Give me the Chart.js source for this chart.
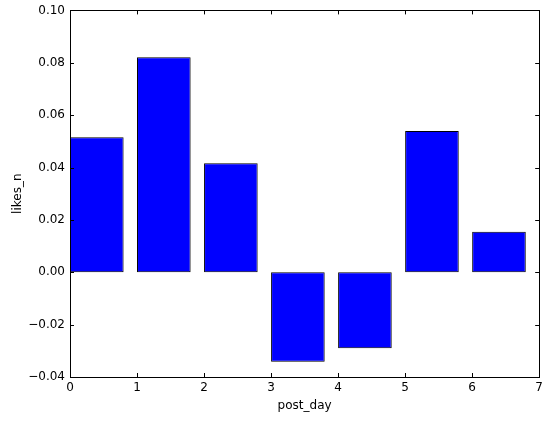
<!DOCTYPE html>
<html>
<head>
<meta charset="utf-8">
<script src="https://cdn.jsdelivr.net/npm/chart.js@4.4.0/dist/chart.umd.min.js"></script>
<style>
  html, body { margin: 0; padding: 0; background: #fff; }
  #wrap { width: 547px; height: 421px; }
</style>
</head>
<body>
<div id="wrap"><canvas id="chart"></canvas></div>
<script>
// data
const postDays = [0, 1, 2, 3, 4, 5, 6];
const likesN = [0.0516, 0.0821, 0.0416, -0.0342, -0.0290, 0.0539, 0.0155];
const xTicks = [0, 1, 2, 3, 4, 5, 6, 7];
const yTicks = [-0.04, -0.02, 0.00, 0.02, 0.04, 0.06, 0.08, 0.10];
const barWidth = 0.8; // old matplotlib bar(), left-aligned

Chart.defaults.font.family = 'DejaVu Sans';
Chart.defaults.font.size = 12;
Chart.defaults.color = '#000';

const fmtY = v => (v < 0 ? '\u2212' : '') + Math.abs(v).toFixed(2);

// matplotlib classic: box frame + ticks pointing inward on all four sides
const frameTicks = {
  id: 'frameTicks',
  afterDraw(chart) {
    const { ctx, chartArea: a, scales: { x, y } } = chart;
    const len = 4;
    ctx.save();
    ctx.strokeStyle = '#000';
    ctx.lineWidth = 1;
    ctx.beginPath();
    xTicks.forEach(t => {
      const px = Math.round(x.getPixelForValue(t)) + 0.5;
      ctx.moveTo(px, a.bottom); ctx.lineTo(px, a.bottom - len);
      ctx.moveTo(px, a.top); ctx.lineTo(px, a.top + len);
    });
    yTicks.forEach(t => {
      const py = Math.round(y.getPixelForValue(t)) + 0.5;
      ctx.moveTo(a.left, py); ctx.lineTo(a.left + len, py);
      ctx.moveTo(a.right, py); ctx.lineTo(a.right - len, py);
    });
    ctx.stroke();
    ctx.strokeRect(Math.round(a.left) + 0.5, Math.round(a.top) + 0.5,
      Math.round(a.right - a.left), Math.round(a.bottom - a.top));
    ctx.restore();
  }
};

new Chart(document.getElementById('chart'), {
  type: 'bar',
  data: {
    datasets: [{
      data: postDays.map((d, i) => ({ x: d + barWidth / 2, y: likesN[i] })),
      backgroundColor: '#0000ff',
      borderColor: '#000',
      borderWidth: 1,
      borderSkipped: false,
      categoryPercentage: 1,
      barPercentage: barWidth
    }]
  },
  plugins: [frameTicks],
  options: {
    responsive: true,
    maintainAspectRatio: false,
    animation: false,
    layout: { padding: { top: 3, right: 7, left: 0, bottom: 0 } },
    plugins: { legend: { display: false }, tooltip: { enabled: false } },
    scales: {
      x: {
        type: 'linear',
        offset: false,
        min: 0,
        max: 7,
        afterBuildTicks: s => { s.ticks = xTicks.map(v => ({ value: v })); },
        afterFit: s => { s.height = 44; },
        grid: { display: false, drawTicks: false },
        border: { display: false },
        ticks: { padding: 4, maxRotation: 0, callback: v => String(v) },
        title: { display: true, text: 'post_day', padding: { top: 0, bottom: 8 } }
      },
      y: {
        min: -0.04,
        max: 0.10,
        afterBuildTicks: s => { s.ticks = yTicks.map(v => ({ value: v })); },
        afterFit: s => { s.width = 70; },
        grid: { display: false, drawTicks: false },
        border: { display: false },
        ticks: { padding: 5, callback: fmtY, font: { lineHeight: 0.9 } },
        title: { display: true, text: 'likes_n', padding: { top: 11, bottom: 0 } }
      }
    }
  }
});
</script>
</body>
</html>
